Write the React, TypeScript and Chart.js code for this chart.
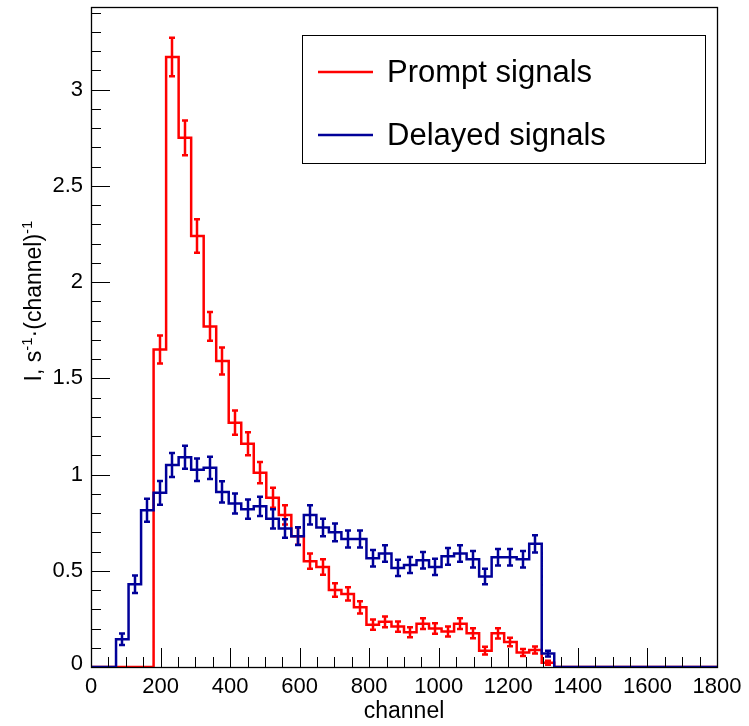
import { useEffect, useRef } from "react";
import { Chart, registerables } from "chart.js";

Chart.register(...registerables);

// ---- data ----
const BIN_WIDTH = 36; // channels per bin
const X_MIN = 0;
const X_MAX = 1800;
const Y_MAX = 3.43;

const promptValues = [
  0, 0, 0, 0, 0, 1.65, 3.17, 2.75, 2.24, 1.77,
  1.59, 1.27, 1.16, 1.01, 0.88, 0.79, 0.68, 0.55, 0.52, 0.4,
  0.38, 0.31, 0.22, 0.235, 0.21, 0.18, 0.225, 0.2, 0.185, 0.225,
  0.175, 0.085, 0.175, 0.13, 0.075, 0.088, 0.022, 0, 0, 0,
  0, 0, 0, 0, 0, 0, 0, 0, 0, 0,
];
const promptErrors = [
  0, 0, 0, 0, 0, 0.073, 0.1, 0.09, 0.087, 0.075,
  0.07, 0.063, 0.06, 0.055, 0.052, 0.05, 0.045, 0.04, 0.04, 0.035,
  0.035, 0.032, 0.027, 0.028, 0.027, 0.026, 0.028, 0.027, 0.026, 0.028,
  0.026, 0.02, 0.027, 0.022, 0.018, 0.018, 0.01, 0, 0, 0,
  0, 0, 0, 0, 0, 0, 0, 0, 0, 0,
];
const delayedValues = [
  0, 0, 0.144, 0.43, 0.815, 0.905, 1.05, 1.09, 1.025, 1.035,
  0.91, 0.85, 0.82, 0.835, 0.77, 0.72, 0.68, 0.79, 0.725, 0.7,
  0.665, 0.665, 0.565, 0.59, 0.515, 0.53, 0.555, 0.52, 0.575, 0.59,
  0.56, 0.47, 0.57, 0.57, 0.56, 0.64, 0.07, 0, 0, 0,
  0, 0, 0, 0, 0, 0, 0, 0, 0, 0,
];
const delayedErrors = [
  0, 0, 0.03, 0.045, 0.06, 0.062, 0.062, 0.06, 0.058, 0.058,
  0.055, 0.052, 0.05, 0.05, 0.05, 0.048, 0.046, 0.05, 0.046, 0.046,
  0.044, 0.044, 0.043, 0.043, 0.042, 0.042, 0.043, 0.042, 0.043, 0.043,
  0.043, 0.04, 0.043, 0.043, 0.043, 0.045, 0.015, 0, 0, 0,
  0, 0, 0, 0, 0, 0, 0, 0, 0, 0,
];

const xTickValues = [0, 200, 400, 600, 800, 1000, 1200, 1400, 1600, 1800];
const xTickLabels = ["0", "200", "400", "600", "800", "1000", "1200", "1400", "1600", "1800"];
const yTickValues = [0, 0.5, 1, 1.5, 2, 2.5, 3];
const yTickLabels = ["0", "0.5", "1", "1.5", "2", "2.5", "3"];
const X_MINOR_STEP = 50;
const Y_MINOR_STEP = 0.1;

const seriesNames = ["Delayed signals", "Prompt signals"];
const RED = "#ff0000";
const BLUE = "#000099";
const FONT = "'Liberation Sans', Arial, Helvetica, sans-serif";

function stepPoints(values: number[]) {
  const pts: { x: number; y: number }[] = [];
  values.forEach((v, i) => {
    pts.push({ x: i * BIN_WIDTH, y: v });
    pts.push({ x: (i + 1) * BIN_WIDTH, y: v });
  });
  return pts;
}

const rootPlugin = {
  id: "rootStyle",
  afterDatasetsDraw(chart: any) {
    const ctx = chart.ctx as CanvasRenderingContext2D;
    const xs = chart.scales.x;
    const ys = chart.scales.y;
    const sets = chart.data.datasets as any[];
    for (let d = sets.length - 1; d >= 0; d--) {
      const ds = sets[d];
      const vals: number[] = ds.binValues;
      const errs: number[] = ds.binErrors;
      ctx.save();
      ctx.strokeStyle = ds.borderColor;
      ctx.lineWidth = 2.5;
      vals.forEach((v, i) => {
        if (v <= 0) return;
        const cx = Math.round(xs.getPixelForValue((i + 0.5) * BIN_WIDTH));
        const y1 = ys.getPixelForValue(v - errs[i]);
        const y2 = ys.getPixelForValue(v + errs[i]);
        ctx.beginPath();
        ctx.moveTo(cx, y1);
        ctx.lineTo(cx, y2);
        ctx.moveTo(cx - 3, y1);
        ctx.lineTo(cx + 3, y1);
        ctx.moveTo(cx - 3, y2);
        ctx.lineTo(cx + 3, y2);
        ctx.stroke();
      });
      ctx.restore();
    }
  },
  afterDraw(chart: any) {
    const ctx = chart.ctx as CanvasRenderingContext2D;
    const xs = chart.scales.x;
    const ys = chart.scales.y;
    const a = chart.chartArea;
    ctx.save();
    // frame
    ctx.strokeStyle = "#000";
    ctx.lineWidth = 1.3;
    ctx.strokeRect(Math.round(a.left) + 0.5, Math.round(a.top) + 0.5, Math.round(a.right - a.left), Math.round(a.bottom - a.top));

    // x ticks
    ctx.lineWidth = 1;
    ctx.beginPath();
    for (let v = X_MIN; v <= X_MAX + 1e-6; v += X_MINOR_STEP) {
      const px = Math.round(xs.getPixelForValue(v)) + 0.5;
      const major = Math.abs(v % 200) < 1e-6;
      const len = major ? 19 : 10;
      ctx.moveTo(px, a.bottom);
      ctx.lineTo(px, a.bottom - len);
    }
    // y ticks
    for (let k = 0; k * Y_MINOR_STEP <= Y_MAX + 1e-9; k++) {
      const v = k * Y_MINOR_STEP;
      const py = Math.round(ys.getPixelForValue(v)) + 0.5;
      const major = k % 5 === 0;
      const len = major ? 19 : 10;
      ctx.moveTo(a.left, py);
      ctx.lineTo(a.left + len, py);
    }
    ctx.stroke();

    // tick labels
    ctx.fillStyle = "#000";
    ctx.font = `22px ${FONT}`;
    ctx.textAlign = "center";
    ctx.textBaseline = "top";
    xTickValues.forEach((v, i) => {
      ctx.fillText(xTickLabels[i], xs.getPixelForValue(v), a.bottom + 9);
    });
    ctx.textAlign = "right";
    ctx.textBaseline = "middle";
    yTickValues.forEach((v, i) => {
      ctx.fillText(yTickLabels[i], a.left - 8, ys.getPixelForValue(v) - (v === 0 ? 3 : 0));
    });

    // x title
    ctx.font = `23px ${FONT}`;
    ctx.textAlign = "center";
    ctx.textBaseline = "middle";
    ctx.fillText("channel", (a.left + a.right) / 2, 712);

    // y title with superscripts
    const parts: [string, boolean][] = [
      ["I, s", false],
      ["-1", true],
      ["\u00b7(channel)", false],
      ["-1", true],
    ];
    const base = 23;
    const sup = 15;
    let total = 0;
    parts.forEach(([t, s]) => {
      ctx.font = `${s ? sup : base}px ${FONT}`;
      total += ctx.measureText(t).width;
    });
    ctx.translate(33, 301);
    ctx.rotate(-Math.PI / 2);
    ctx.textAlign = "left";
    ctx.textBaseline = "alphabetic";
    let x = -total / 2;
    parts.forEach(([t, s]) => {
      ctx.font = `${s ? sup : base}px ${FONT}`;
      ctx.fillText(t, x, s ? -1 : 8);
      x += ctx.measureText(t).width;
    });
    ctx.setTransform(1, 0, 0, 1, 0, 0);

    // legend
    ctx.fillStyle = "#fff";
    ctx.fillRect(302, 35, 403, 128);
    ctx.strokeStyle = "#000";
    ctx.lineWidth = 1;
    ctx.strokeRect(302.5, 35.5, 403, 128);
    const entries: [string, string, number][] = [
      [seriesNames[1], RED, 72],
      [seriesNames[0], BLUE, 135],
    ];
    entries.forEach(([name, color, y]) => {
      ctx.strokeStyle = color;
      ctx.lineWidth = 2.5;
      ctx.beginPath();
      ctx.moveTo(318, y);
      ctx.lineTo(373, y);
      ctx.stroke();
      ctx.fillStyle = "#000";
      ctx.font = `31px ${FONT}`;
      ctx.textAlign = "left";
      ctx.textBaseline = "middle";
      ctx.fillText(name, 387, y + 1);
    });
    ctx.restore();
  },
};

export default function App() {
  const ref = useRef<HTMLCanvasElement | null>(null);
  useEffect(() => {
    document.body.style.margin = "0";
    const canvas = ref.current;
    if (!canvas) return;
    const chart = new Chart(canvas, {
      type: "line",
      data: {
        datasets: [
          {
            label: seriesNames[0],
            data: stepPoints(delayedValues),
            borderColor: BLUE,
            borderWidth: 2.5,
            pointRadius: 0,
            tension: 0,
            fill: false,
            binValues: delayedValues,
            binErrors: delayedErrors,
          } as any,
          {
            label: seriesNames[1],
            data: stepPoints(promptValues),
            borderColor: RED,
            borderWidth: 2.5,
            pointRadius: 0,
            tension: 0,
            fill: false,
            binValues: promptValues,
            binErrors: promptErrors,
          } as any,
        ],
      },
      options: {
        animation: false,
        responsive: false,
        devicePixelRatio: 1,
        layout: { padding: { left: 91, right: 32, top: 7, bottom: 59 } },
        plugins: { legend: { display: false }, tooltip: { enabled: false } },
        events: [],
        scales: {
          x: { type: "linear", min: X_MIN, max: X_MAX, display: false },
          y: { type: "linear", min: 0, max: Y_MAX, display: false },
        },
      },
      plugins: [rootPlugin],
    });
    return () => chart.destroy();
  }, []);
  return (
    <div style={{ width: 749, height: 726, background: "#fff" }}>
      <canvas ref={ref} width={749} height={726} style={{ display: "block" }} />
    </div>
  );
}
